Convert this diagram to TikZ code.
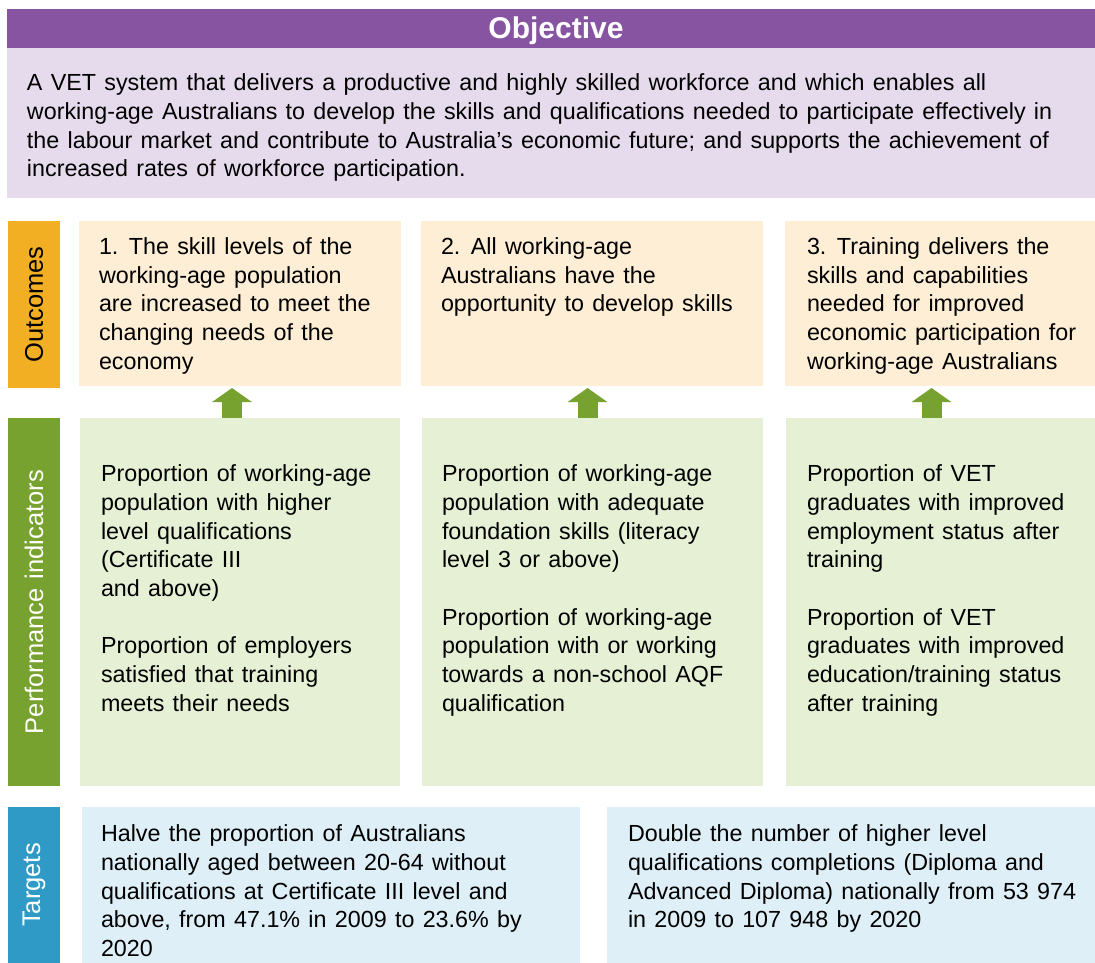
\documentclass[tikz,border=0pt]{standalone}
\usepackage{fontspec}
\setmainfont{Liberation Sans}
\usetikzlibrary{arrows.meta,calc}
\definecolor{hdrpurple}{HTML}{8754A1}
\definecolor{bodypurple}{HTML}{E6DBED}
\definecolor{outorange}{HTML}{F2AF23}
\definecolor{outbox}{HTML}{FDEED5}
\definecolor{pigreen}{HTML}{78A22F}
\definecolor{pibox}{HTML}{E5F0D4}
\definecolor{tgblue}{HTML}{2E9AC5}
\definecolor{tgbox}{HTML}{DEEFF7}
\newcommand{\fs}{\fontsize{23.3}{28.7}\selectfont\spaceskip=8.3pt\relax}
\newcommand{\fsl}{\fontsize{25.5}{30}\selectfont\spaceskip=9pt\relax}
\tikzset{
  box/.style={draw=none, inner sep=0pt, outer sep=0pt, anchor=north west},
  txt/.style={anchor=north west, inner sep=0pt, outer sep=0pt, align=left, font=\fs},
  sidelabel/.style={rotate=90, inner sep=0pt, font=\fsl},
  uparrow/.style={draw=pigreen, line width=20pt, -{Triangle[width=39pt,length=14pt]}, shorten >=2pt}
}
\begin{document}
\begin{tikzpicture}[x=1pt,y=-1pt]
\path[use as bounding box] (0,0) rectangle (1095,963);
% objective
\node[box, fill=hdrpurple, minimum width=1088pt, minimum height=39.5pt] (hdr) at (7,9) {};
\node[box, fill=bodypurple, minimum width=1088pt, minimum height=149pt] (body) at (7,48.5) {};
\node[anchor=base, inner sep=0pt, text=white, font=\bfseries\fontsize{30}{34}\selectfont] (title) at (556,39) {Objective};
\node[txt] (bodyt) at (27,70.6) {\strut A VET system that delivers a productive and highly skilled workforce and which enables all\\
working-age Australians to develop the skills and qualifications needed to participate effectively in\\
the labour market and contribute to Australia’s economic future; and supports the achievement of\\
increased rates of workforce participation.};
% outcomes
\node[box, fill=outorange, minimum width=52pt, minimum height=167pt] (ob) at (8,221) {};
\node[sidelabel, text=black] (obt) at (ob.center) {Outcomes};
\node[box, fill=outbox, minimum width=322pt, minimum height=165pt] (o1) at (79,221) {};
\node[box, fill=outbox, minimum width=342pt, minimum height=165pt] (o2) at (421,221) {};
\node[box, fill=outbox, minimum width=310pt, minimum height=165pt] (o3) at (785,221) {};
\node[txt] (o1t) at (99,234.3) {\strut 1. The skill levels of the\\ working-age population\\ are increased to meet the\\ changing needs of the\\ economy};
\node[txt] (o2t) at (441,234.3) {\strut 2. All working-age\\ Australians have the\\ opportunity to develop skills};
\node[txt] (o3t) at (807,234.3) {\strut 3. Training delivers the\\ skills and capabilities\\ needed for improved\\ economic participation for\\ working-age Australians};
% performance indicators
\node[box, fill=pigreen, minimum width=52pt, minimum height=368pt] (pb) at (8,418) {};
\node[sidelabel, text=white] (pbt) at (pb.center) {Performance indicators};
\node[box, fill=pibox, minimum width=320pt, minimum height=368pt] (p1) at (80,418) {};
\node[box, fill=pibox, minimum width=341pt, minimum height=368pt] (p2) at (422,418) {};
\node[box, fill=pibox, minimum width=309pt, minimum height=368pt] (p3) at (786,418) {};
\node[txt] (p1t) at (101,461.6) {\strut Proportion of working-age\\ population with higher\\ level qualifications\\ (Certificate III\\ and above)\\[28.7pt] Proportion of employers\\ satisfied that training\\ meets their needs};
\node[txt] (p2t) at (442,461.6) {\strut Proportion of working-age\\ population with adequate\\ foundation skills (literacy\\ level 3 or above)\\[28.7pt] Proportion of working-age\\ population with or working\\ towards a non-school AQF\\ qualification};
\node[txt] (p3t) at (807,461.6) {\strut Proportion of VET\\ graduates with improved\\ employment status after\\ training\\[28.7pt] Proportion of VET\\ graduates with improved\\ education/training status\\ after training};
% arrows
\coordinate (a1) at (232,418);
\coordinate (a2) at (587.5,418);
\coordinate (a3) at (931.5,418);
\draw[uparrow] (a1) -- (a1 |- o1.south);
\draw[uparrow] (a2) -- (a2 |- o2.south);
\draw[uparrow] (a3) -- (a3 |- o3.south);
% targets
\node[box, fill=tgblue, minimum width=52pt, minimum height=156pt] (tb) at (8,807) {};
\node[sidelabel, text=white] (tbt) at (tb.center) {Targets};
\node[box, fill=tgbox, minimum width=498pt, minimum height=156pt] (t1) at (82,807) {};
\node[box, fill=tgbox, minimum width=488pt, minimum height=156pt] (t2) at (607,807) {};
\node[txt] (t1t) at (101,821.6) {\strut Halve the proportion of Australians\\ nationally aged between 20-64 without\\ qualifications at Certificate III level and\\ above, from 47.1\% in 2009 to 23.6\% by\\ 2020};
\node[txt] (t2t) at (628,821.6) {\strut Double the number of higher level\\ qualifications completions (Diploma and\\ Advanced Diploma) nationally from 53 974\\ in 2009 to 107 948 by 2020};
\end{tikzpicture}
\end{document}
